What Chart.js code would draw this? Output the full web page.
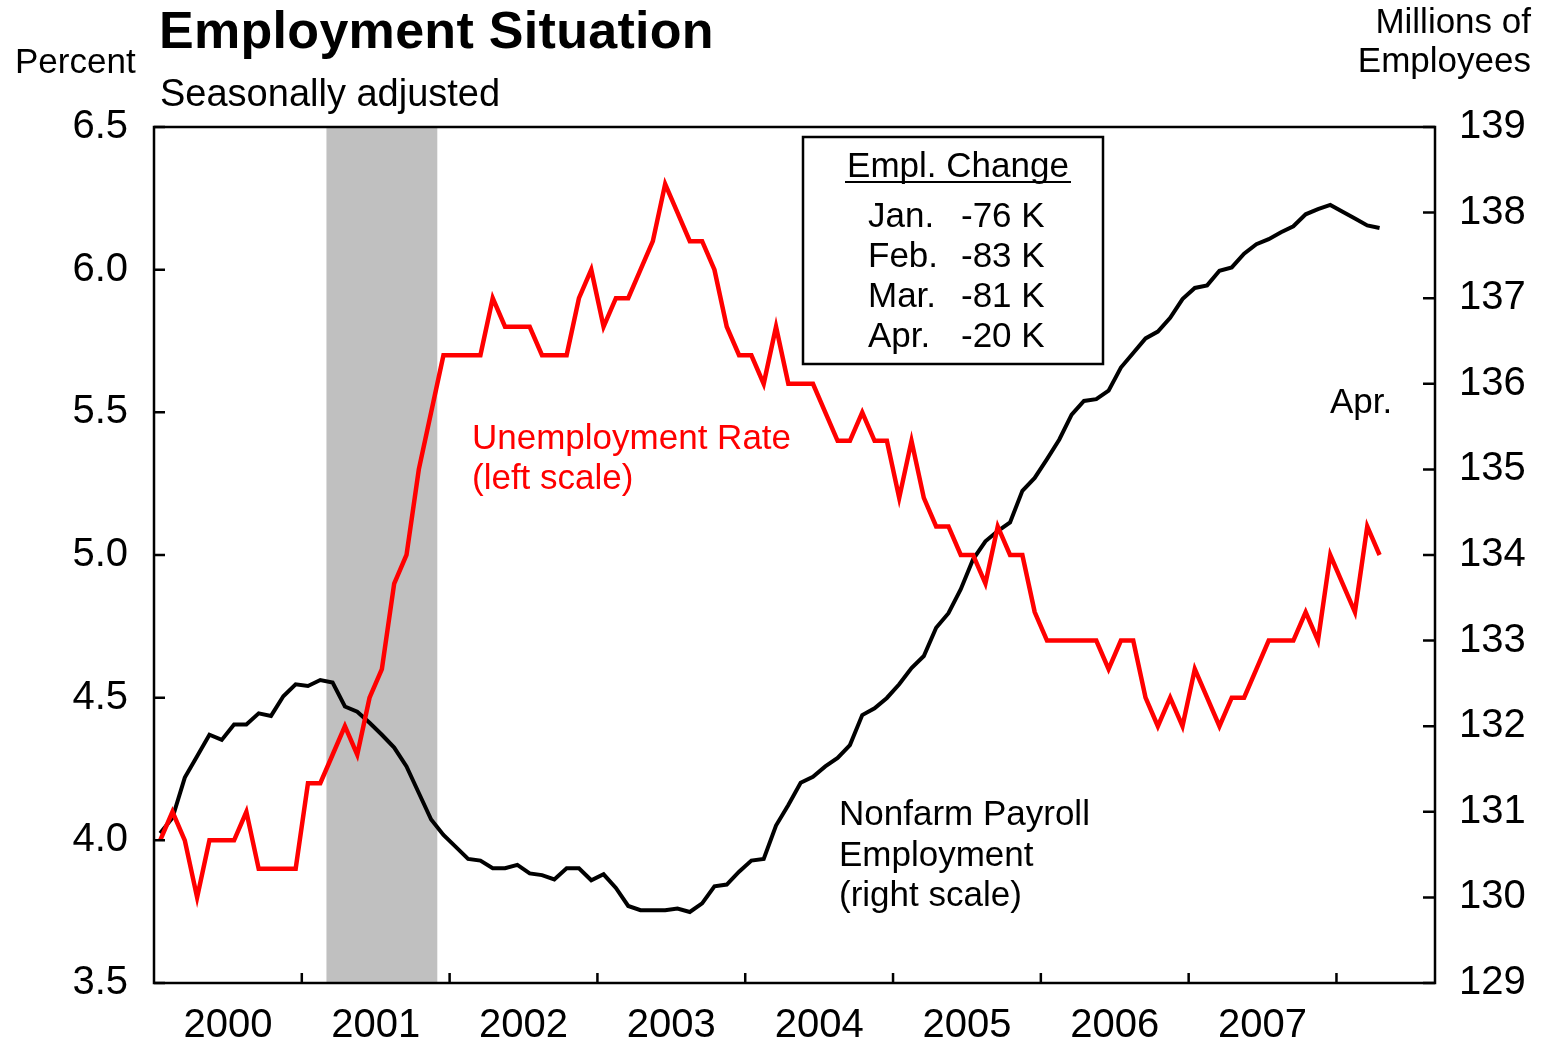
<!DOCTYPE html>
<html>
<head>
<meta charset="utf-8">
<title>Employment Situation</title>
<script src="https://cdn.jsdelivr.net/npm/chart.js@4.4.0/dist/chart.umd.min.js"></script>
<style>
  html, body { margin: 0; padding: 0; background: #fff; }
  #wrap { position: relative; width: 1541px; height: 1042px; }
</style>
</head>
<body>
<div id="wrap"><canvas id="chart" width="1541" height="1042"></canvas></div>
<script>
// x values are month indexes: 0 = Jan 2000 ... 99 = Apr 2008
const years = ['2000', '2001', '2002', '2003', '2004', '2005', '2006', '2007'];

// unemployment rate, percent (left scale)
const unemployment = [
  4.0, 4.1, 4.0, 3.8, 4.0, 4.0, 4.0, 4.1, 3.9, 3.9, 3.9, 3.9,
  4.2, 4.2, 4.3, 4.4, 4.3, 4.5, 4.6, 4.9, 5.0, 5.3, 5.5, 5.7,
  5.7, 5.7, 5.7, 5.9, 5.8, 5.8, 5.8, 5.7, 5.7, 5.7, 5.9, 6.0,
  5.8, 5.9, 5.9, 6.0, 6.1, 6.3, 6.2, 6.1, 6.1, 6.0, 5.8, 5.7,
  5.7, 5.6, 5.8, 5.6, 5.6, 5.6, 5.5, 5.4, 5.4, 5.5, 5.4, 5.4,
  5.2, 5.4, 5.2, 5.1, 5.1, 5.0, 5.0, 4.9, 5.1, 5.0, 5.0, 4.8,
  4.7, 4.7, 4.7, 4.7, 4.7, 4.6, 4.7, 4.7, 4.5, 4.4, 4.5, 4.4,
  4.6, 4.5, 4.4, 4.5, 4.5, 4.6, 4.7, 4.7, 4.7, 4.8, 4.7, 5.0,
  4.9, 4.8, 5.1, 5.0
];

// nonfarm payroll employment, millions (right scale)
const payrolls = [
  130.75, 130.93, 131.40, 131.65, 131.90, 131.84, 132.02, 132.02, 132.15, 132.12, 132.35, 132.49,
  132.47, 132.54, 132.51, 132.23, 132.17, 132.04, 131.90, 131.75, 131.53, 131.22, 130.91, 130.73,
  130.59, 130.45, 130.43, 130.34, 130.34, 130.38, 130.28, 130.26, 130.21, 130.34, 130.34, 130.20,
  130.27, 130.11, 129.90, 129.85, 129.85, 129.85, 129.87, 129.83, 129.93, 130.13, 130.15, 130.30,
  130.43, 130.45, 130.84, 131.08, 131.34, 131.41, 131.53, 131.63, 131.78, 132.13, 132.21, 132.33,
  132.49, 132.68, 132.82, 133.15, 133.32, 133.60, 133.95, 134.16, 134.28, 134.38, 134.75, 134.90,
  135.12, 135.35, 135.64, 135.80, 135.82, 135.92, 136.19, 136.36, 136.53, 136.61, 136.77, 136.99,
  137.12, 137.15, 137.32, 137.36, 137.52, 137.63, 137.69, 137.77, 137.84, 137.98, 138.04, 138.09,
  138.01, 137.93, 137.85, 137.82
];

const emplChangeMonths = ['Jan.', 'Feb.', 'Mar.', 'Apr.'];
const emplChangeValues = ['-76 K', '-83 K', '-81 K', '-20 K'];

// recession shading, Mar 2001 - Nov 2001 (month index edges)
const recession = [13.5, 22.5];

const FONT = '"Liberation Sans", Arial, Helvetica, sans-serif';
Chart.defaults.font.family = FONT;
Chart.defaults.color = '#000';

function label(ctx, str, x, y, size, opts) {
  opts = opts || {};
  ctx.save();
  ctx.font = (opts.bold ? 'bold ' : '') + size + 'px ' + FONT;
  ctx.fillStyle = opts.color || '#000';
  ctx.textAlign = opts.align || 'left';
  ctx.textBaseline = 'alphabetic';
  if (opts.spacing && 'letterSpacing' in ctx) ctx.letterSpacing = opts.spacing;
  ctx.fillText(str, x, y);
  ctx.restore();
}

const decor = {
  id: 'decor',
  beforeDatasetsDraw(chart) {
    const { ctx, chartArea: a, scales: { x } } = chart;
    const x0 = x.getPixelForValue(recession[0]);
    const x1 = x.getPixelForValue(recession[1]);
    ctx.save();
    ctx.fillStyle = '#c0c0c0';
    ctx.fillRect(x0, a.top, x1 - x0, a.bottom - a.top);
    ctx.restore();
  },
  afterDraw(chart) {
    const { ctx, chartArea: a, scales: { x, y, y1 } } = chart;
    ctx.save();
    ctx.strokeStyle = '#000';
    ctx.lineWidth = 2.5;
    ctx.strokeRect(a.left, a.top, a.right - a.left, a.bottom - a.top);

    // inside tick marks
    ctx.beginPath();
    y.ticks.forEach(t => {
      const p = y.getPixelForValue(t.value);
      ctx.moveTo(a.left, p); ctx.lineTo(a.left + 11, p);
    });
    y1.ticks.forEach(t => {
      const p = y1.getPixelForValue(t.value);
      ctx.moveTo(a.right, p); ctx.lineTo(a.right - 12, p);
    });
    years.forEach((yr, i) => {
      const p = x.getPixelForValue(11.5 + 12 * i);
      ctx.moveTo(p, a.bottom); ctx.lineTo(p, a.bottom - 10);
    });
    ctx.stroke();
    ctx.restore();

    // titles
    label(ctx, 'Employment Situation', 159, 48, 52, { bold: true, spacing: '0.3px' });
    label(ctx, 'Seasonally adjusted', 160, 106, 38);
    label(ctx, 'Percent', 15, 73, 35);
    label(ctx, 'Millions of', 1531, 33, 35, { align: 'right' });
    label(ctx, 'Employees', 1531, 72, 35, { align: 'right' });

    // series notes
    label(ctx, 'Unemployment Rate', 472, 449, 35, { color: '#ff0000' });
    label(ctx, '(left scale)', 472, 489, 35, { color: '#ff0000' });
    label(ctx, 'Nonfarm Payroll', 839, 825, 35);
    label(ctx, 'Employment', 839, 866, 35);
    label(ctx, '(right scale)', 839, 906, 35);
    label(ctx, 'Apr.', 1330, 413, 35);

    // employment change box
    ctx.save();
    ctx.fillStyle = '#fff';
    ctx.fillRect(803, 137, 300, 227);
    ctx.strokeStyle = '#000';
    ctx.lineWidth = 2.5;
    ctx.strokeRect(803, 137, 300, 227);
    ctx.lineWidth = 2;
    ctx.beginPath();
    ctx.moveTo(845, 182); ctx.lineTo(1071, 182);
    ctx.stroke();
    ctx.restore();
    label(ctx, 'Empl. Change', 958, 177, 35, { align: 'center' });
    emplChangeMonths.forEach((m, i) => {
      label(ctx, m, 868, 227 + 40 * i, 35);
      label(ctx, emplChangeValues[i], 961, 227 + 40 * i, 35);
    });
  }
};

const ctx = document.getElementById('chart').getContext('2d');

const chart = new Chart(ctx, {
  type: 'line',
  data: {
    datasets: [
      {
        label: 'Unemployment Rate',
        data: unemployment.map((v, i) => ({ x: i, y: v })),
        borderColor: '#ff0000',
        borderWidth: 4.5,
        pointRadius: 0,
        tension: 0,
        yAxisID: 'y',
        fill: false,
      },
      {
        label: 'Nonfarm Payroll Employment',
        data: payrolls.map((v, i) => ({ x: i, y: v })),
        borderColor: '#000',
        borderWidth: 4,
        pointRadius: 0,
        tension: 0,
        yAxisID: 'y1',
        fill: false,
      },
    ],
  },
  options: {
    responsive: false,
    animation: false,
    devicePixelRatio: 1,
    layout: { padding: { top: 127, left: 0, right: 0, bottom: 0 } },
    plugins: {
      legend: { display: false },
      tooltip: { enabled: false },
      title: { display: false },
    },
    scales: {
      x: {
        type: 'linear',
        min: -0.5,
        max: 103.5,
        grid: { display: false, drawTicks: false },
        border: { display: false },
        afterBuildTicks: s => { s.ticks = years.map((yr, i) => ({ value: 5.5 + 12 * i })); },
        afterFit: s => { s.height = 59; },
        ticks: {
          autoSkip: false,
          maxRotation: 0,
          padding: 19,
          font: { size: 40 },
          callback: (v, i) => years[i],
        },
      },
      y: {
        position: 'left',
        min: 3.5,
        max: 6.5,
        grid: { display: false, drawTicks: false },
        border: { display: false },
        afterFit: s => { s.width = 154; },
        ticks: {
          stepSize: 0.5,
          padding: 26,
          font: { size: 40 },
          callback: v => v.toFixed(1),
        },
      },
      y1: {
        position: 'right',
        min: 129,
        max: 139,
        grid: { display: false, drawTicks: false },
        border: { display: false },
        afterFit: s => { s.width = 106; },
        ticks: {
          stepSize: 1,
          padding: 24,
          font: { size: 40 },
        },
      },
    },
  },
  plugins: [decor],
});
</script>
</body>
</html>
